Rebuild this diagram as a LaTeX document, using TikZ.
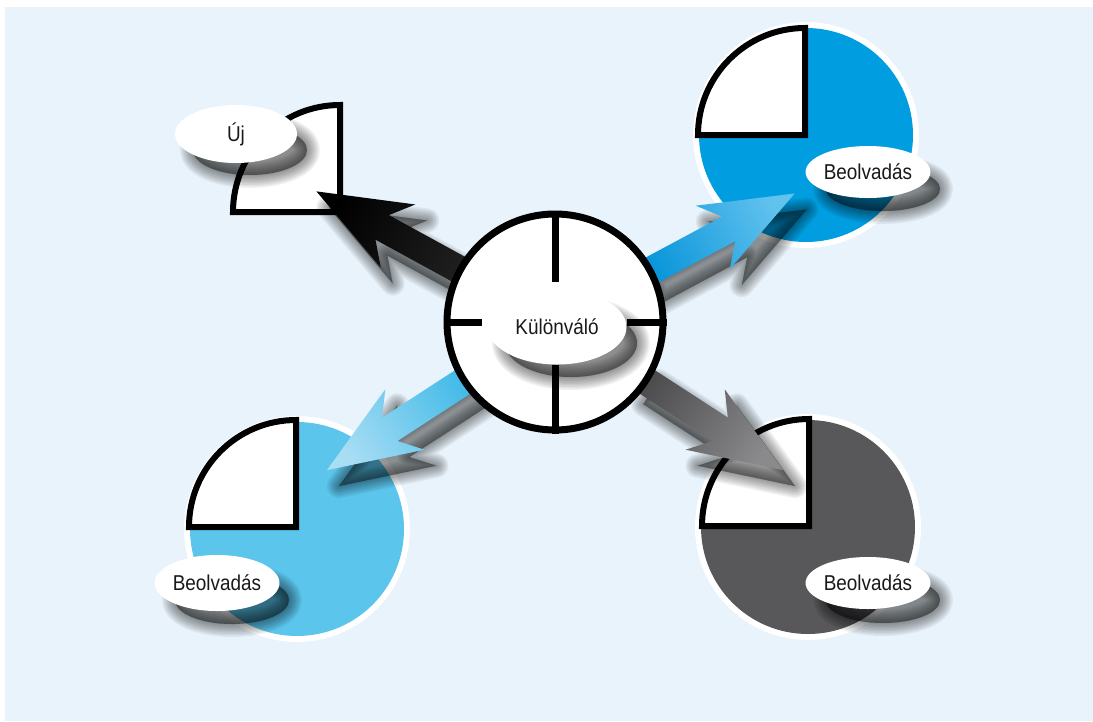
\documentclass[tikz,border=0pt]{standalone}
\usepackage{fontspec}
\setmainfont{Liberation Sans}[FakeStretch=0.88]
\usetikzlibrary{shapes.geometric}
\definecolor{bg}{HTML}{E9F3FB}
\definecolor{cblue}{HTML}{009EE0}
\definecolor{clight}{HTML}{5BC5EC}
\definecolor{cgray}{HTML}{58585A}
\definecolor{abk1}{HTML}{1E1E1E}
\definecolor{abk2}{HTML}{000000}
\definecolor{abl1}{HTML}{0A96DA}
\definecolor{abl2}{HTML}{62C2EE}
\definecolor{alb1}{HTML}{45BBE8}
\definecolor{alb2}{HTML}{A8DDF4}
\definecolor{agr1}{HTML}{4D4D4F}
\definecolor{agr2}{HTML}{8A8A8C}
\newcommand\arrowshape{(100,-14) -- (197,-14) -- (179,-36) -- (272,0) -- (179,36) -- (197,14) -- (100,14) -- cycle}
\newcommand\ellshadow[4]{%
  \foreach \w in {26,23,20,17,14,11,8,5,2} {\filldraw[shadowlayer, line width=\w pt] (#1,#2) ellipse[x radius=#3, y radius=#4];}%
  \fill[shadowlayer] (#1,#2) ellipse[x radius=#3, y radius=#4];}
\begin{document}
\begin{tikzpicture}[x=1pt, y=-1pt,
  tag/.style={ellipse, fill=white, inner sep=0pt, font=\fontsize{21.5}{24}\selectfont, text=black!90},
  quarter/.style={fill=white, draw=black, line width=6pt, line join=miter},
  shadowlayer/.style={black, opacity=0.055, line join=round},
]
\useasboundingbox (0,0) rectangle (1093,721);
\fill[white] (0,0) rectangle (1093,721);
\fill[bg] (5,7) rectangle (1093,721);

% coloured discs with white rings
\foreach \cx/\cy/\col in {806/135/cblue, 297/529/clight, 808/527/cgray} {
  \fill[white] (\cx,\cy) circle[radius=113];
  \fill[\col] (\cx,\cy) circle[radius=107];
}

% quarter pies
\draw[quarter] (340,212) -- (340,105) arc[start angle=-90, end angle=-180, radius=107] -- cycle;
\draw[quarter] (805,135) -- (805,28) arc[start angle=-90, end angle=-180, radius=107] -- cycle;
\draw[quarter] (296,527) -- (296,420) arc[start angle=-90, end angle=-180, radius=107] -- cycle;
\draw[quarter] (809,526) -- (809,419) arc[start angle=-90, end angle=-180, radius=107] -- cycle;

% arrow shadows
\foreach \ang in {151.3, 28.2, -147, -33} {
  \begin{scope}[shift={(567,338)}, rotate=\ang]
    \foreach \w in {24,21,18,15,12,9,6,3} {\filldraw[shadowlayer, line width=\w pt] \arrowshape;}
    \fill[shadowlayer] \arrowshape;
  \end{scope}
}
% arrows
\foreach \ang/\sa/\cb/\ct in {151.3/61.3/abk1/abk2, 28.2/-61.8/abl1/abl2, -147/-237/alb1/alb2, -33/-123/agr1/agr2} {
  \begin{scope}[shift={(555,322)}, rotate=\ang]
    \shade[top color=\ct, bottom color=\cb, shading angle=\sa] \arrowshape;
  \end{scope}
}

% hub
\node[circle, draw=black, line width=7pt, fill=white, minimum size=216pt, inner sep=0pt] (hub) at (555,322) {};
\draw[line width=7pt] (hub.north) -- (555,282);
\draw[line width=7pt] (hub.south) -- (555,365);
\draw[line width=7pt] (hub.west) -- (482,322);
\draw[line width=7pt] (hub.east) -- (627,322);

% ellipse shadows
\ellshadow{571}{343}{66}{34}
\ellshadow{250}{150}{57}{25}
\ellshadow{883}{189}{57}{22}
\ellshadow{232}{600}{57}{24}
\ellshadow{883}{600}{57}{23}

% labels
\node[tag, minimum width=139pt, minimum height=75pt] (kul) at (557,327) {Különváló};
\node[tag, minimum width=122pt, minimum height=58pt] (uj) at (236,134) {Új};
\node[tag, minimum width=121pt, minimum height=52pt] (b1) at (868,172) {Beolvadás};
\node[tag, minimum width=120pt, minimum height=56pt] (b2) at (217,583) {Beolvadás};
\node[tag, minimum width=121pt, minimum height=52pt] (b3) at (868,583) {Beolvadás};
\end{tikzpicture}
\end{document}
